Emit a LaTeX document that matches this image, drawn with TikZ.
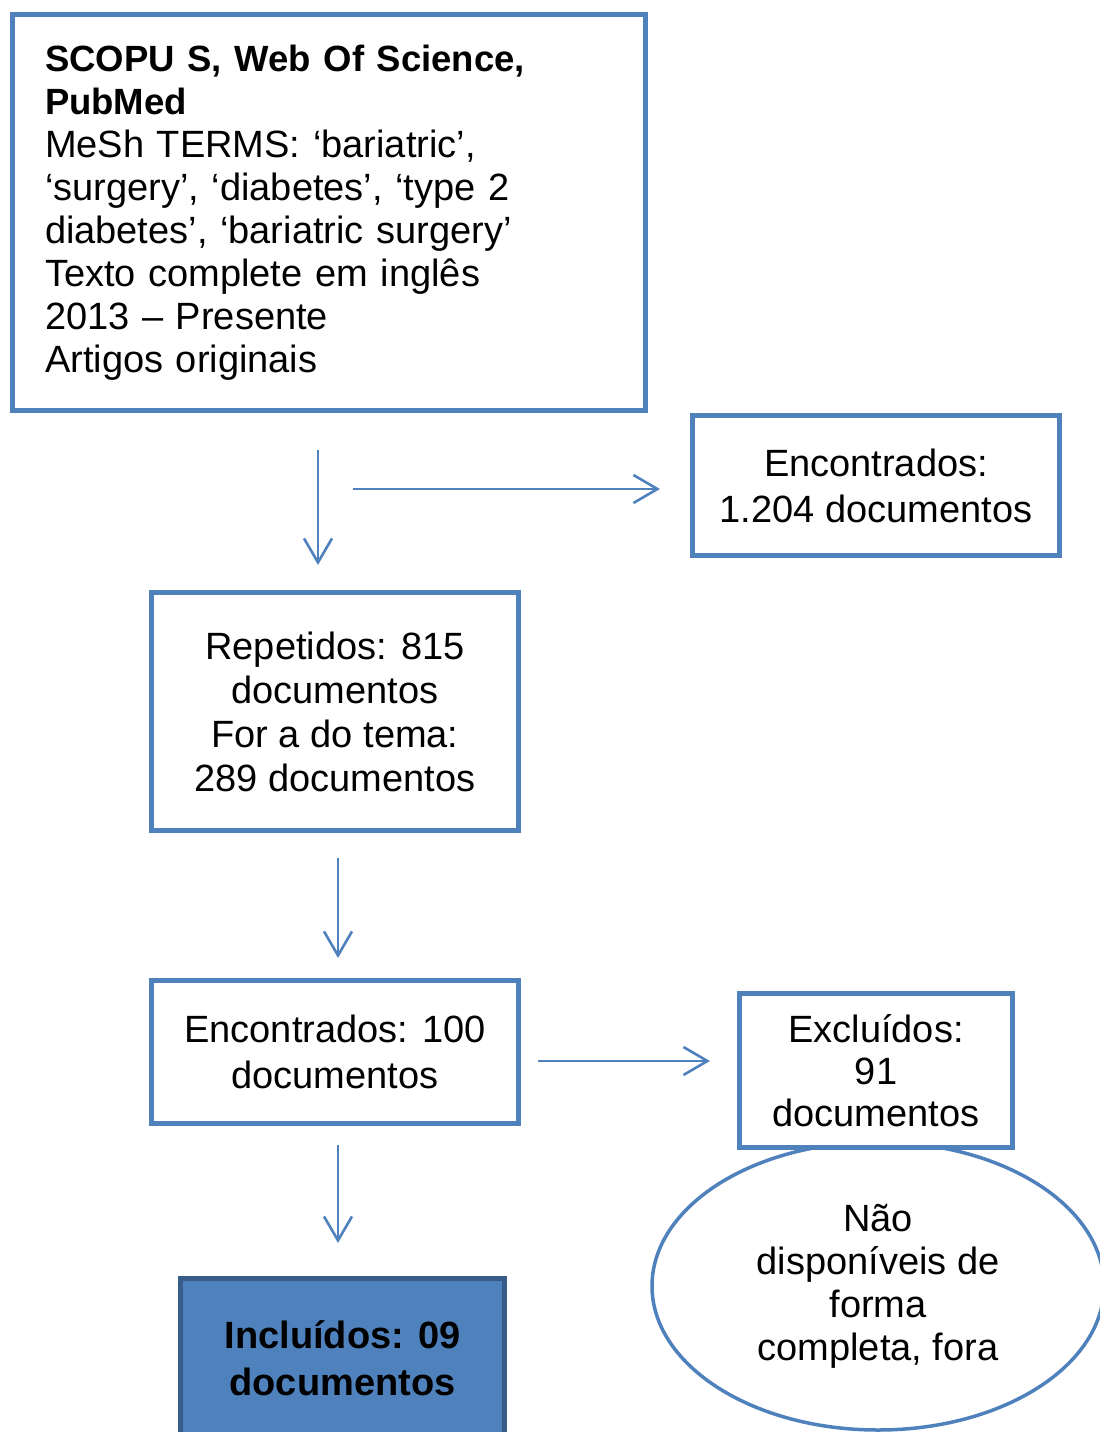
\documentclass[tikz,border=0pt]{standalone}
\usepackage{fontspec}
\setmainfont{Liberation Sans}
\usetikzlibrary{arrows.meta,shapes.geometric}
\definecolor{boxblue}{HTML}{4F81BD}
\definecolor{darkblue}{HTML}{385D8A}
\tikzset{
  box/.style={draw=boxblue, line width=5pt, fill=white, rectangle, inner sep=0pt, align=center},
  arr/.style={draw=boxblue, line width=2.6pt, -{Straight Barb[length=24pt,width=28pt,line width=2.6pt]}},
  txt/.style={font=\fontsize{38}{46}\selectfont}
}
\newcommand{\hdline}[1]{{\fontsize{36.5}{43}\selectfont\bfseries #1}}
\begin{document}
\begin{tikzpicture}[x=1pt,y=-1pt]
\useasboundingbox[fill=white] (0,0) rectangle (1100,1432);
% main search box
\node[box, anchor=center, text width=568pt, inner xsep=32.5pt, minimum height=396pt, align=left,
      font=\fontsize{38}{43}\selectfont] (src) at (329,212.5)
  {\hdline{SCOPU S, Web Of Science,}\\
   \hdline{PubMed}\\
   MeSh TERMS: ‘bariatric’,\\
   ‘surgery’, ‘diabetes’, ‘type 2\\
   diabetes’, ‘bariatric surgery’\\
   Texto complete em inglês\\
   2013 – Presente\\
   Artigos originais};
\node[box, txt, minimum width=367pt, minimum height=140pt] (enc1) at (876,485.5)
  {Encontrados:\\1.204 documentos};
\node[box, minimum width=367pt, minimum height=238pt, font=\fontsize{38}{44}\selectfont] (rep) at (335,711.5)
  {Repetidos: 815\\documentos\\For a do tema:\\289 documentos};
\node[box, txt, minimum width=367pt, minimum height=143pt] (enc2) at (335,1052)
  {Encontrados: 100\\documentos};
% ellipse drawn before the box that overlaps it
\node[draw=boxblue, line width=3.5pt, ellipse, minimum width=452pt, minimum height=288pt, inner sep=0pt,
      align=center, font=\fontsize{38}{43}\selectfont] (nd) at (878,1286)
  {Não\\disponíveis de\\forma\\completa, fora};
\node[box, minimum width=273pt, minimum height=154pt, font=\fontsize{38}{42}\selectfont] (exc) at (876,1070.5)
  {Excluídos:\\91\\documentos};
\node[box, draw=darkblue, fill=boxblue, minimum width=324pt, minimum height=160pt,
      font=\fontsize{38}{47}\selectfont\bfseries] (inc) at (342.5,1358)
  {Incluídos: 09\\documentos};
% connector end points
\coordinate (a1s) at (318,450);
\coordinate (a1e) at (318,565);
\coordinate (a2s) at (353,489);
\coordinate (a2e) at (660,489);
\coordinate (a3s) at (338,858);
\coordinate (a3e) at (338,958);
\coordinate (a4s) at (538,1061);
\coordinate (a4e) at (710,1061);
\coordinate (a5s) at (338,1145);
\coordinate (a5e) at (338,1243);
\draw[arr] (a1s) -- (a1e);
\draw[arr] (a2s) -- (a2e);
\draw[arr] (a3s) -- (a3e);
\draw[arr] (a4s) -- (a4e);
\draw[arr] (a5s) -- (a5e);
\end{tikzpicture}
\end{document}
